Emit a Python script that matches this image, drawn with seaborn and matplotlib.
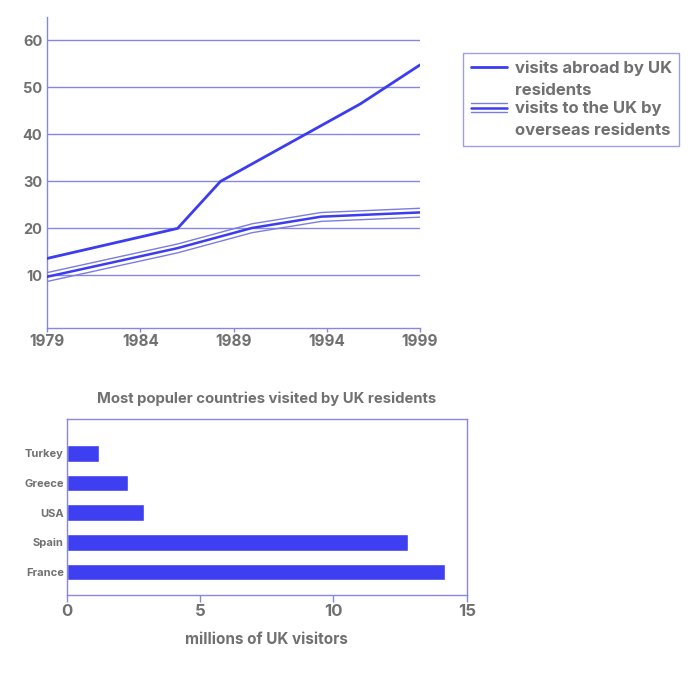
import matplotlib
matplotlib.use("Agg")
import matplotlib.pyplot as plt
import matplotlib.patheffects as pe
from matplotlib.legend_handler import HandlerLine2D
import numpy as np
import seaborn as sns
import pandas as pd

# ---- data ----
abroad_years = [1979, 1986, 1988.3, 1995.8, 1999]
abroad_values = [13.6, 20.0, 30.0, 46.5, 54.8]
uk_years = [1979, 1986, 1990, 1993.7, 1999]
uk_values = [9.7, 15.8, 20.1, 22.5, 23.4]
x_ticks = [1979, 1984, 1989, 1994, 1999]
y_ticks = [10, 20, 30, 40, 50, 60]

countries = ["Turkey", "Greece", "USA", "Spain", "France"]
visitors = [1.2, 2.3, 2.9, 12.8, 14.2]
bar_ticks = [0, 5, 10, 15]

label_abroad = "visits abroad by UK\nresidents"
label_uk = "visits to the UK by\noverseas residents"
bar_title = "Most populer countries visited by UK residents"
bar_xlabel = "millions of UK visitors"

# ---- style ----
sns.set_theme(style="white")
plt.rcParams["font.family"] = ["Inter", "DejaVu Sans"]
plt.rcParams["font.weight"] = "bold"
TEXT = "#707070"
LINE = "#3c3cf0"
GRID = "#8686e6"
THIN = "#7c7ce0"


class TopLineHandler(HandlerLine2D):
    """Place the legend line beside the first line of a two-line label."""
    def create_artists(self, legend, orig_handle, xdescent, ydescent,
                       width, height, fontsize, trans):
        arts = super().create_artists(legend, orig_handle, xdescent, ydescent,
                                      width, height, fontsize, trans)
        for a in arts:
            if hasattr(a, "set_ydata"):
                a.set_ydata(np.asarray(a.get_ydata()) + 0.72 * fontsize)
        return arts


fig = plt.figure(figsize=(7, 7), dpi=100)

# ---- top line chart ----
ax = fig.add_axes([47/700, 1-328/700, (420-47)/700, (328-17)/700])
df_a = pd.DataFrame({"year": abroad_years, "value": abroad_values})
df_u = pd.DataFrame({"year": uk_years, "value": uk_values})
sns.lineplot(data=df_a, x="year", y="value", ax=ax, color=LINE, lw=2.0,
             label=label_abroad, zorder=3)
sns.lineplot(data=df_u, x="year", y="value", ax=ax, color=LINE, lw=1.8,
             label=label_uk, zorder=3)
uk_line = ax.get_lines()[-1]
uk_line.set_path_effects([
    pe.SimpleLineShadow(offset=(0, 3.0), shadow_color=THIN, alpha=1, rho=1, linewidth=1.0),
    pe.SimpleLineShadow(offset=(0, -3.4), shadow_color=THIN, alpha=1, rho=1, linewidth=1.0),
    pe.Normal(),
])
for y in y_ticks:
    ax.axhline(y, color=GRID, lw=1.0, zorder=1)
ax.set_xlim(1979, 1999)
ax.set_ylim(-1.2, 65)
ax.set_xticks(x_ticks)
ax.set_yticks(y_ticks)
ax.set_xlabel("")
ax.set_ylabel("")
for s in ["top", "right"]:
    ax.spines[s].set_visible(False)
for s in ["left", "bottom"]:
    ax.spines[s].set_color(GRID)
    ax.spines[s].set_linewidth(1.0)
ax.tick_params(axis="x", colors=GRID, labelcolor=TEXT, labelsize=11, length=3,
               width=1, pad=1, direction="out", bottom=True)
ax.tick_params(axis="y", colors=GRID, labelcolor=TEXT, labelsize=10.5, length=0, pad=3.5)
for t in ax.get_xticklabels() + ax.get_yticklabels():
    t.set_fontweight("bold")
ax.get_legend().remove()

handles, labels = ax.get_legend_handles_labels()
leg = fig.legend(handles, labels, loc="upper left",
                 bbox_to_anchor=(463/700, 1-53/700), frameon=True,
                 fancybox=False, edgecolor=GRID, borderaxespad=0,
                 handlelength=2.2, handletextpad=0.45, labelspacing=0.2,
                 borderpad=0.45, prop={"weight": "bold", "size": 12},
                 handler_map={h: TopLineHandler() for h in handles})
leg.get_frame().set_linewidth(1.0)
for t in leg.get_texts():
    t.set_color(TEXT)
    t.set_linespacing(1.55)

# ---- bottom bar chart ----
bx = fig.add_axes([66.7/700, 1-595/700, 400/700, (595-419.3)/700])
df_b = pd.DataFrame({"country": countries, "visitors": visitors})
sns.barplot(data=df_b, x="visitors", y="country", ax=bx, color="#3f3ff2",
            saturation=1, width=0.56, orient="h")
bx.set_xlim(0, 15)
bx.set_ylim(4.77, -1.14)
bx.set_xticks(bar_ticks)
bx.set_ylabel("")
bx.set_xlabel(bar_xlabel, color=TEXT, fontsize=11, fontweight="bold", labelpad=9.5)
bx.set_title(bar_title, color=TEXT, fontsize=10.7, fontweight="bold", pad=11.5)
for s in bx.spines.values():
    s.set_visible(True)
    s.set_color(GRID)
    s.set_linewidth(1.0)
bx.tick_params(axis="x", colors=GRID, labelcolor=TEXT, labelsize=12, length=5,
               width=1, pad=1.5, bottom=True)
bx.tick_params(axis="y", colors=GRID, labelcolor=TEXT, labelsize=8, length=0, pad=2)
for t in bx.get_xticklabels() + bx.get_yticklabels():
    t.set_fontweight("bold")

fig.savefig("out.png", dpi=100, facecolor="white")
